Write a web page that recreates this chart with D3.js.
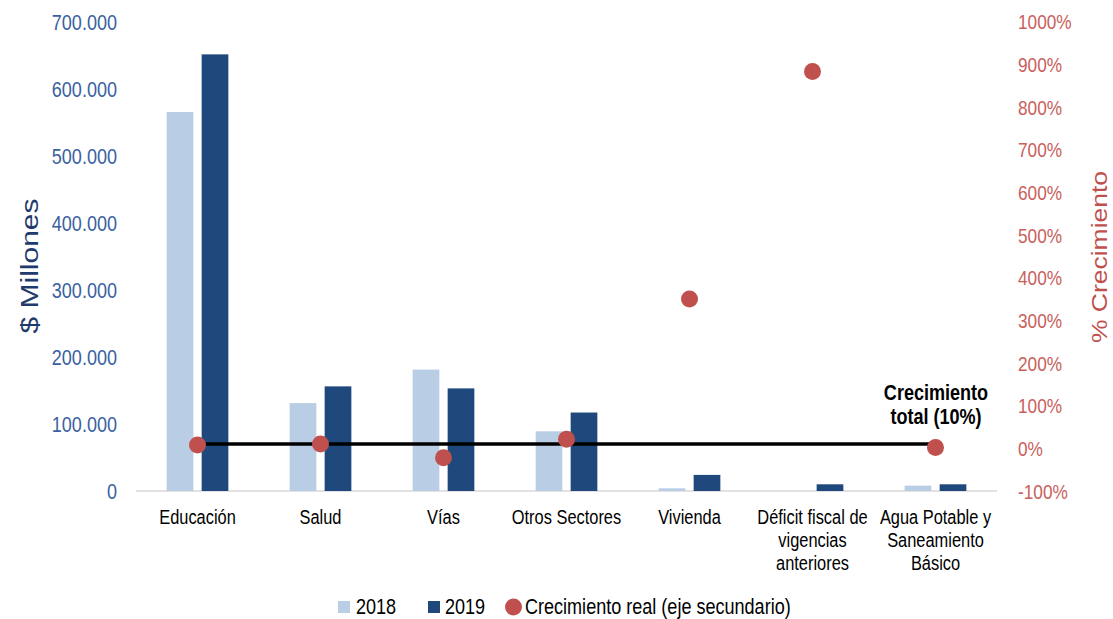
<!DOCTYPE html>
<html><head><meta charset="utf-8">
<script src="https://cdn.jsdelivr.net/npm/d3@7"></script>
<style>
body{margin:0;background:#fff;}
svg text{font-family:"Liberation Sans",Arial,sans-serif;}
</style></head>
<body><svg id="chart" width="1113" height="619"></svg>
<script>
const categories = ["Educación","Salud","Vías","Otros Sectores","Vivienda","Déficit fiscal de vigencias anteriores","Agua Potable y Saneamiento Básico"];
const categoryLines = [["Educación"],["Salud"],["Vías"],["Otros Sectores"],["Vivienda"],["Déficit fiscal de","vigencias","anteriores"],["Agua Potable y","Saneamiento","Básico"]];
const values2018 = [565000, 131000, 181000, 89000, 4000, 0, 8000];
const values2019 = [651000, 156000, 153000, 117000, 24000, 10000, 10000];
const growth = [0.08, 0.10, -0.22, 0.21, 3.50, 8.83, 0.02];
const totalGrowth = 0.10;
const leftTicks = [0,100000,200000,300000,400000,500000,600000,700000];
const rightTicks = [-1,0,1,2,3,4,5,6,7,8,9,10];
const seriesNames = ["2018","2019","Crecimiento real (eje secundario)"];

const SQ = 0.82; // horizontal condensing of glyphs
function squeeze(sel){
  sel.each(function(){
    const tsp = this.querySelectorAll("tspan");
    const targets = tsp.length ? Array.from(tsp) : [this];
    targets.forEach(t => {
      const len = t.getComputedTextLength();
      t.setAttribute("textLength", (len*SQ).toFixed(2));
      t.setAttribute("lengthAdjust","spacingAndGlyphs");
    });
  });
}

const svg = d3.select("#chart");
const x = d3.scaleBand().domain(categories).range([136, 997]);
const yL = d3.scaleLinear().domain([0,700000]).range([491, 21.5]);
const yR = d3.scaleLinear().domain([-1,10]).range([491, 21.5]);
const c18 = "#B9CDE5", c19 = "#1F497D", cDot = "#C0504D";
const barW = 26.7, gap = 8.3;

svg.append("line").attr("x1",136).attr("x2",997).attr("y1",yL(0)).attr("y2",yL(0))
  .attr("stroke","#D9D9D9").attr("stroke-width",1.5);

const center = d => x(d) + x.bandwidth()/2;
svg.append("g").selectAll("rect").data(categories).join("rect")
  .attr("x", d => center(d) - gap/2 - barW).attr("width", barW)
  .attr("y", (d,i) => yL(values2018[i])).attr("height", (d,i) => yL(0)-yL(values2018[i]))
  .attr("fill", c18);
svg.append("g").selectAll("rect").data(categories).join("rect")
  .attr("x", d => center(d) + gap/2).attr("width", barW)
  .attr("y", (d,i) => yL(values2019[i])).attr("height", (d,i) => yL(0)-yL(values2019[i]))
  .attr("fill", c19);

svg.append("line")
  .attr("x1", center(categories[0])).attr("x2", center(categories[categories.length-1]))
  .attr("y1", yR(totalGrowth)).attr("y2", yR(totalGrowth))
  .attr("stroke","#000").attr("stroke-width",3.5);

svg.append("g").selectAll("circle").data(categories).join("circle")
  .attr("cx", d => center(d)).attr("cy", (d,i) => yR(growth[i])).attr("r", 8.5)
  .attr("fill", cDot);

const fmtL = v => v === 0 ? "0" : d3.format(",")(v).replace(/,/g,".");
const gL = svg.append("g").attr("transform","translate(137,0)")
  .call(d3.axisLeft(yL).tickValues(leftTicks).tickFormat(fmtL).tickSize(0).tickPadding(20));
gL.select(".domain").remove();
gL.selectAll("text").attr("fill","#3A62A0").attr("font-size",22).attr("dy","0.35em");
squeeze(gL.selectAll("text"));

const gR = svg.append("g").attr("transform","translate(998,0)")
  .call(d3.axisRight(yR).tickValues(rightTicks).tickFormat(v => Math.round(v*100)+"%").tickSize(0).tickPadding(20));
gR.select(".domain").remove();
gR.selectAll("text").attr("fill","#C9605C").attr("font-size",21).attr("dy","0.35em");
squeeze(gR.selectAll("text"));

svg.append("text").attr("transform","translate(38,266) rotate(-90) scale(1,0.82)").attr("text-anchor","middle")
  .attr("font-size",30).attr("fill","#1F3B6E").text("$ Millones");
svg.append("text").attr("transform","translate(1107,257) rotate(-90) scale(1,0.82)").attr("text-anchor","middle")
  .attr("font-size",26.5).attr("fill","#C0504D").text("% Crecimiento");

const gC = svg.append("g");
categories.forEach((c,i) => {
  const t = gC.append("text").attr("x", center(c)).attr("y", 524).attr("text-anchor","middle")
    .attr("font-size",20).attr("fill","#000");
  categoryLines[i].forEach((ln,j) => t.append("tspan").attr("x", center(c)).attr("dy", j===0?0:23).text(ln));
});
squeeze(gC.selectAll("text"));

const ann = svg.append("text").attr("x", 936).attr("text-anchor","middle").attr("font-size",22)
  .attr("font-weight","bold").attr("fill","#000");
ann.append("tspan").attr("x",936).attr("y",400).text("Crecimiento");
ann.append("tspan").attr("x",936).attr("y",424).text("total (10%)");
squeeze(ann);

const lg = svg.append("g");
lg.append("rect").attr("x",338).attr("y",601).attr("width",12).attr("height",12).attr("fill",c18);
lg.append("text").attr("x",356).attr("y",614).attr("font-size",22).text(seriesNames[0]);
lg.append("rect").attr("x",428).attr("y",601).attr("width",12).attr("height",12).attr("fill",c19);
lg.append("text").attr("x",445).attr("y",614).attr("font-size",22).text(seriesNames[1]);
lg.append("circle").attr("cx",513.5).attr("cy",607).attr("r",8.5).attr("fill",cDot);
lg.append("text").attr("x",525).attr("y",614).attr("font-size",22).text(seriesNames[2]);
squeeze(lg.selectAll("text"));
</script></body></html>
